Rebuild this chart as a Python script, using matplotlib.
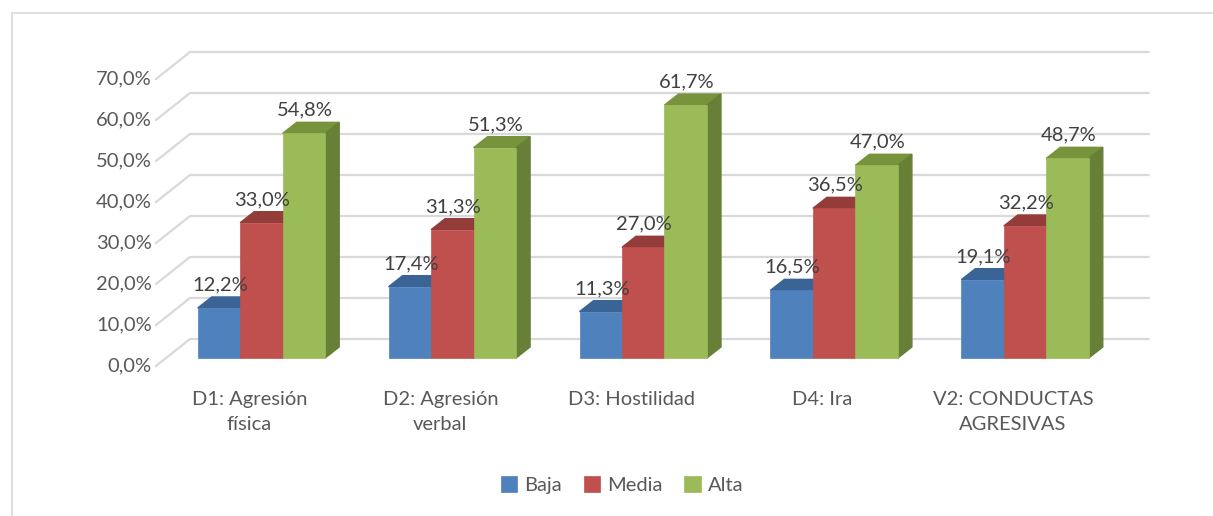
import matplotlib
matplotlib.use("Agg")
import matplotlib.pyplot as plt
from matplotlib.patches import Polygon, Rectangle
import numpy as np

plt.rcParams['font.family'] = ['Lato', 'DejaVu Sans']

categories = ["D1: Agresión\nfísica", "D2: Agresión\nverbal", "D3: Hostilidad",
              "D4: Ira", "V2: CONDUCTAS\nAGRESIVAS"]
series = ["Baja", "Media", "Alta"]
baja = [12.2, 17.4, 11.3, 16.5, 19.1]
media = [33.0, 31.3, 27.0, 36.5, 32.2]
alta = [54.8, 51.3, 61.7, 47.0, 48.7]
yticks = [0, 10, 20, 30, 40, 50, 60, 70]

face = ["#4f81bd", "#c0504d", "#9bbb59"]
top = ["#3a6496", "#943c3a", "#77933c"]
side = ["#385d8a", "#8c3836", "#687f38"]
grid_c = "#d9d9d9"
txt_c = "#595959"

W, H = 1213, 516
fig = plt.figure(figsize=(W / 100, H / 100), dpi=100)

# axes: x = category index, y = percent (front plane of the bars)
ax_left, ax_right = 166, 1120.5
ax_bottom, px_per_pct = 358, 4.1
ax = fig.add_axes([ax_left / W, (H - ax_bottom) / H,
                   (ax_right - ax_left) / W, 70 * px_per_pct / H])
ax.set_xlim(-0.5, 4.5)
ax.set_ylim(0, 70)
ax.axis("off")

px_x = (ax_right - ax_left) / 5.0  # pixels per x unit
def dx(p):
    return p / px_x
def dy(p):
    return p / px_per_pct

# frame around the chart
fig.patches.append(Rectangle((12 / W, -0.1), 1.2, (H - 13) / H + 0.1,
                             transform=fig.transFigure, fill=False,
                             edgecolor=grid_c, lw=1.2))

# gridlines: slanted floor part + back wall part
fx, fy = dx(-10), dy(-8)     # front edge offset
bx, by = dx(24), dy(19)      # back wall offset
for v in yticks:
    ax.plot([-0.5 + fx, -0.5 + bx, 4.5 + bx + dx(4)], [v + fy, v + by, v + by],
            color=grid_c, lw=1.6, clip_on=False, zorder=1)
    ax.text(-0.5 + fx - dx(4), v + fy, f"{v:.1f}%".replace(".", ","),
            ha="right", va="center", fontsize=14.5, color=txt_c)

bw = 0.2226
ddx, ddy = dx(14), dy(11)
x = np.arange(len(categories))
vals = [baja, media, alta]
for j, s in enumerate(series):
    xs = x + (j - 1) * bw
    ax.bar(xs, vals[j], width=bw, color=face[j], edgecolor=face[j], lw=0.5,
           zorder=3, label=s, clip_on=False)
    for xi, v in zip(xs, vals[j]):
        l, r = xi - bw / 2, xi + bw / 2
        ax.add_patch(Polygon([(l, v), (r, v), (r + ddx, v + ddy), (l + ddx, v + ddy)],
                             closed=True, color=top[j], zorder=2, clip_on=False))
        ax.add_patch(Polygon([(r, 0), (r, v), (r + ddx, v + ddy), (r + ddx, ddy)],
                             closed=True, color=side[j], zorder=2, clip_on=False))
        ax.text(xi + dx(1), v + dy(23), f"{v:.1f}%".replace(".", ","),
                ha="center", va="center", fontsize=14.5, color="#404040", zorder=5)

for xi, c in zip(x, categories):
    ax.text(xi - dx(12), -dy(33), c, ha="center", va="top", fontsize=14.5,
            color=txt_c, linespacing=1.6)

leg = fig.legend(loc="center", bbox_to_anchor=(622 / W, 1 - 485 / H), ncol=3,
                 frameon=False, fontsize=14.5, handlelength=0.8, handleheight=0.8,
                 handletextpad=0.35, columnspacing=1.1)
for t in leg.get_texts():
    t.set_color(txt_c)

fig.savefig("out.png", dpi=100)
